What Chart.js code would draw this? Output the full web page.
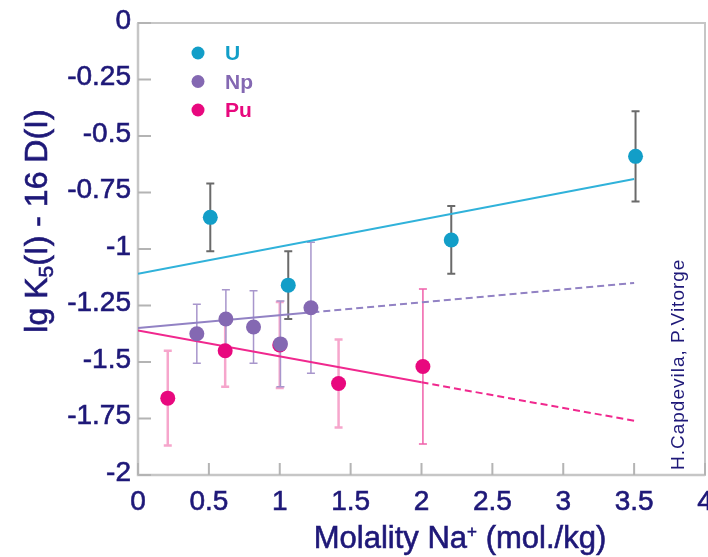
<!DOCTYPE html>
<html>
<head>
<meta charset="utf-8">
<script src="https://cdn.jsdelivr.net/npm/chart.js@4.4.1/dist/chart.umd.min.js"></script>
<style>
	html, body { margin: 0; padding: 0; background: #ffffff; }
	canvas { display: block; }
</style>
</head>
<body>
<canvas id="meu_grafico" width="708" height="557"></canvas>
<script>
//----------------------------------------Dados----------------------------------------
const eixo_x_ticks = [0, 0.5, 1, 1.5, 2, 2.5, 3, 3.5, 4];
const eixo_x_rotulos = ["0", "0.5", "1", "1.5", "2", "2.5", "3", "3.5", "4"];
const eixo_y_ticks = [0, -0.25, -0.5, -0.75, -1, -1.25, -1.5, -1.75, -2];
const eixo_y_rotulos = ["0", "-0.25", "-0.5", "-0.75", "-1", "-1.25", "-1.5", "-1.75", "-2"];

const series_nomes = ["U", "Np", "Pu"];

//Pontos medidos (x, y, erro)
const u_x = [0.51, 1.06, 2.21, 3.51];
const u_y = [-0.86, -1.16, -0.96, -0.59];
const u_erro = [0.15, 0.15, 0.15, 0.20];

const np_x = [0.415, 0.62, 0.815, 1.005, 1.22];
const np_y = [-1.375, -1.31, -1.345, -1.42, -1.26];
const np_erro = [0.13, 0.13, 0.16, 0.19, 0.29];

const pu_x = [0.21, 0.615, 1.0, 1.415, 2.01];
const pu_y = [-1.66, -1.45, -1.425, -1.595, -1.52];
const pu_erro = [0.21, 0.16, 0.19, 0.195, 0.343];

//Retas ajustadas (o segundo trecho e tracejado em Np e Pu)
const u_reta_x = [0, 3.5];
const u_reta_y = [-1.11, -0.69];
const np_reta_x = [0, 1.23, 3.5];
const np_reta_y = [-1.35, -1.28, -1.15];
const pu_reta_x = [0, 2.0, 3.5];
const pu_reta_y = [-1.36, -1.59, -1.76];


//----------------------------------------Estilos----------------------------------------
const cor_texto = "#1e1878";
const cor_u = "#129ec8";
const cor_np = "#8468b2";
const cor_pu = "#e8087e";
const fonte = "'Liberation Sans', Arial, Helvetica, sans-serif";


//----------------------------------------Funções----------------------------------------
function pontos(xs, ys){
	return xs.map((x, i) => ({ x: x, y: ys[i] }));
}

function tracejar_segundo(ctx){
	return ctx.p0DataIndex >= 1 ? [7, 4] : undefined;
}

//Desenha uma barra de erro vertical com tampas
function barra_erro(ctx, xs, ys, x, y, e, cor, largura){
	const px = xs.getPixelForValue(x);
	const p1 = ys.getPixelForValue(y + e);
	const p2 = ys.getPixelForValue(y - e);
	ctx.strokeStyle = cor;
	ctx.lineWidth = largura;
	ctx.beginPath();
	ctx.moveTo(px, p1);
	ctx.lineTo(px, p2);
	ctx.moveTo(px - 4, p1);
	ctx.lineTo(px + 4, p1);
	ctx.moveTo(px - 4, p2);
	ctx.lineTo(px + 4, p2);
	ctx.stroke();
}

//Texto com sub/sobrescrito, partes = [[texto, tamanho, deslocamento]]
function texto_partes(ctx, partes, x, y){
	let largura = 0;
	partes.forEach(p => {
		ctx.font = p[1] + "px " + fonte;
		largura += ctx.measureText(p[0]).width;
	});
	let cx = x - largura / 2;
	partes.forEach(p => {
		ctx.font = p[1] + "px " + fonte;
		ctx.fillText(p[0], cx, y + p[2]);
		ctx.strokeText(p[0], cx, y + p[2]);
		cx += ctx.measureText(p[0]).width;
	});
}

const extras = {
	id: "extras",
	beforeDatasetsDraw(chart){
		const ctx = chart.ctx;
		const a = chart.chartArea;
		const xs = chart.scales.x;
		const ys = chart.scales.y;
		ctx.save();

		//Moldura
		ctx.strokeStyle = "#c6c6c6";
		ctx.lineWidth = 2;
		ctx.strokeRect(a.left, a.top, a.right - a.left, a.bottom - a.top);
		ctx.lineWidth = 2.5;
		ctx.beginPath();
		ctx.moveTo(a.left, a.top);
		ctx.lineTo(a.left, a.bottom);
		ctx.lineTo(a.right, a.bottom);
		ctx.stroke();

		//Marcas internas
		ctx.strokeStyle = "#b4b4b4";
		ctx.lineWidth = 2;
		ctx.beginPath();
		eixo_y_ticks.forEach(v => {
			const py = ys.getPixelForValue(v);
			ctx.moveTo(a.left, py);
			ctx.lineTo(a.left + 13, py);
		});
		eixo_x_ticks.forEach(v => {
			const px = xs.getPixelForValue(v);
			ctx.moveTo(px, a.bottom);
			ctx.lineTo(px, a.bottom - 12);
		});
		ctx.stroke();

		//Barras de erro
		u_x.forEach((x, i) => barra_erro(ctx, xs, ys, x, u_y[i], u_erro[i], "#6a6a6a", 2));
		pu_x.forEach((x, i) => {
			if(i === 4){
				barra_erro(ctx, xs, ys, x, pu_y[i], pu_erro[i], "#f060aa", 1.5);
			} else {
				barra_erro(ctx, xs, ys, x, pu_y[i], pu_erro[i], "#f6a6cc", 2.5);
			}
		});
		np_x.forEach((x, i) => barra_erro(ctx, xs, ys, x, np_y[i], np_erro[i], "#a896cc", 1.5));

		ctx.restore();
	},
	afterDraw(chart){
		const ctx = chart.ctx;
		const a = chart.chartArea;
		ctx.save();
		ctx.fillStyle = cor_texto;
		ctx.strokeStyle = cor_texto;
		ctx.lineWidth = 0.6;
		ctx.textBaseline = "alphabetic";
		ctx.textAlign = "left";

		//Titulo do eixo y
		ctx.save();
		ctx.translate(47, 221);
		ctx.rotate(-Math.PI / 2);
		texto_partes(ctx, [["lg K", 32, 0], ["5", 21, 6], ["(I) - 16 D(I)", 32, 0]], 0, 0);
		ctx.restore();

		//Titulo do eixo x
		texto_partes(ctx, [["Molality Na", 31, 0], ["+", 17, -11], [" (mol./kg)", 31, 0]], 460, 548);

		//Autores
		ctx.save();
		ctx.translate(684, 470);
		ctx.rotate(-Math.PI / 2);
		ctx.font = "19px " + fonte;
		ctx.letterSpacing = "1px";
		ctx.fillText("H.Capdevila, P.Vitorge", 0, 0);
		ctx.restore();

		//Legenda
		const cores = [cor_u, cor_np, cor_pu];
		const legenda_y = [53, 81.5, 110];
		series_nomes.forEach((nome, i) => {
			ctx.fillStyle = cores[i];
			ctx.beginPath();
			ctx.arc(a.left + 60, legenda_y[i], 6.5, 0, Math.PI * 2);
			ctx.fill();
			ctx.font = "bold 21px " + fonte;
			ctx.fillText(nome, a.left + 87, legenda_y[i] + 7);
		});

		ctx.restore();
	}
};


//----------------------------------------Grafico----------------------------------------
const grafico = new Chart(document.getElementById("meu_grafico"), {
	type: "scatter",
	data: {
		datasets: [
			{
				label: "U reta",
				data: pontos(u_reta_x, u_reta_y),
				showLine: true,
				borderColor: "#30b2da",
				borderWidth: 2,
				pointRadius: 0,
				order: 10
			},
			{
				label: "Np reta",
				data: pontos(np_reta_x, np_reta_y),
				showLine: true,
				borderColor: "#9282c4",
				borderWidth: 2,
				pointRadius: 0,
				segment: { borderDash: tracejar_segundo },
				order: 10
			},
			{
				label: "Pu reta",
				data: pontos(pu_reta_x, pu_reta_y),
				showLine: true,
				borderColor: "#f0288e",
				borderWidth: 2,
				pointRadius: 0,
				segment: { borderDash: tracejar_segundo },
				order: 10
			},
			{
				label: series_nomes[0],
				data: pontos(u_x, u_y),
				backgroundColor: cor_u,
				borderWidth: 0,
				pointRadius: 7.5,
				order: 1
			},
			{
				label: series_nomes[1],
				data: pontos(np_x, np_y),
				backgroundColor: cor_np,
				borderWidth: 0,
				pointRadius: 7.5,
				order: 2
			},
			{
				label: series_nomes[2],
				data: pontos(pu_x, pu_y),
				backgroundColor: cor_pu,
				borderWidth: 0,
				pointRadius: 7.5,
				order: 3
			}
		]
	},
	options: {
		responsive: false,
		animation: false,
		layout: { autoPadding: false, padding: { top: 23, right: 3, left: 0, bottom: 0 } },
		scales: {
			x: {
				type: "linear",
				min: 0,
				max: 4,
				afterBuildTicks: s => { s.ticks = eixo_x_ticks.map(v => ({ value: v })); },
				afterFit: s => { s.height = 82; s.paddingLeft = 0; s.paddingRight = 0; },
				grid: { display: false, drawTicks: false, tickLength: 0 },
				border: { display: false },
				ticks: {
					callback: (v, i) => eixo_x_rotulos[i],
					autoSkip: false,
					maxRotation: 0,
					padding: 10,
					color: cor_texto,
					textStrokeColor: cor_texto,
					textStrokeWidth: 0.6,
					font: { family: fonte, size: 28 }
				}
			},
			y: {
				type: "linear",
				min: -2,
				max: 0,
				afterBuildTicks: s => { s.ticks = eixo_y_ticks.map(v => ({ value: v })).reverse(); },
				afterFit: s => { s.width = 138; s.paddingTop = 0; s.paddingBottom = 0; },
				grid: { display: false, drawTicks: false, tickLength: 0 },
				border: { display: false },
				ticks: {
					callback: (v, i, t) => eixo_y_rotulos[eixo_y_ticks.indexOf(t[i].value)],
					autoSkip: false,
					padding: 7,
					labelOffset: -2,
					color: cor_texto,
					textStrokeColor: cor_texto,
					textStrokeWidth: 0.6,
					font: { family: fonte, size: 28 }
				}
			}
		},
		plugins: {
			legend: { display: false },
			tooltip: { enabled: false }
		}
	},
	plugins: [extras]
});
</script>
</body>
</html>
